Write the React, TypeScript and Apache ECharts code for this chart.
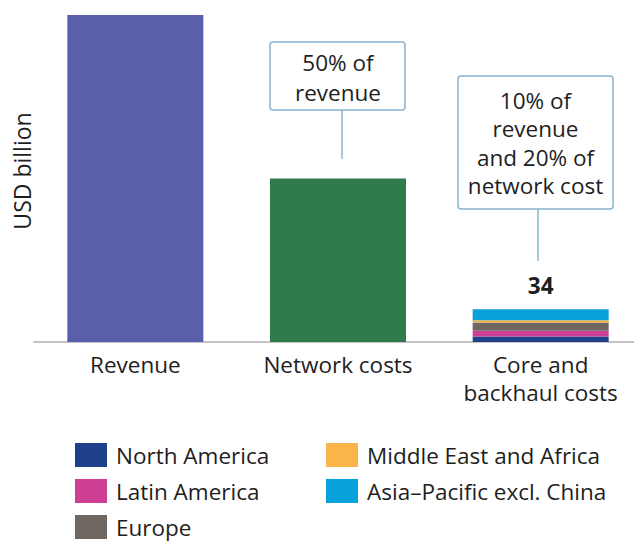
import React, { useEffect, useRef } from "react";
import * as echarts from "echarts";

const categories = ["Revenue", "Network costs", "Core and\nbackhaul costs"];
const revenue = [340, "-", "-"];
const networkCosts = ["-", 170, "-"];
const regionNames = ["North America", "Latin America", "Europe", "Middle East and Africa", "Asia\u2013Pacific excl. China"];
const regionValues = [5.6, 6.0, 8.8, 2.1, 11.5];
const regionColors = ["#1f418b", "#cc3f94", "#6e6762", "#f9b548", "#08a1dc"];
const coreTotal = 34;
const annotations = [
  { text: "50% of\nrevenue" },
  { text: "10% of\nrevenue\nand 20% of\nnetwork cost" },
];

const FONT = "'Open Sans', 'Noto Sans', sans-serif";
const FS = 22.5;
const TEXT = "#1e1e1e";
const BOX = "#8ab4cf";

export default function App() {
  const ref = useRef<HTMLDivElement>(null);
  useEffect(() => {
    const chart = echarts.init(ref.current!, undefined, { renderer: "svg" });
    const regionSeries = regionNames.map((name, i) => ({
      name,
      type: "bar",
      stack: "s",
      barWidth: 136,
      itemStyle: { color: regionColors[i] },
      data: ["-", "-", regionValues[i]],
      label:
        i === regionNames.length - 1
          ? {
              show: true,
              position: "top",
              distance: 12,
              formatter: () => String(coreTotal),
              fontFamily: FONT,
              fontSize: FS,
              fontWeight: "bold",
              color: TEXT,
            }
          : { show: false },
    }));
    const legendCommon = {
      orient: "vertical",
      top: 443,
      height: 110,
      padding: 0,
      itemWidth: 32,
      itemHeight: 24,
      itemGap: 12,
      icon: "rect",
      textStyle: { fontFamily: FONT, fontSize: FS, color: TEXT, padding: [0, 0, 0, 4] },
    };
    chart.setOption({
      animation: false,
      grid: { left: 34, right: 0, top: 15, bottom: 200 },
      legend: [
        { ...legendCommon, left: 75, data: regionNames.slice(0, 3) },
        { ...legendCommon, left: 326, data: regionNames.slice(3) },
      ],
      xAxis: {
        type: "category",
        data: categories,
        axisLine: { show: true, lineStyle: { color: "#c4c4c4", width: 2 } },
        axisTick: { show: false },
        axisLabel: {
          fontFamily: FONT,
          fontSize: FS,
          color: TEXT,
          lineHeight: 28,
          margin: 8,
          interval: 0,
        },
      },
      yAxis: {
        type: "value",
        min: 0,
        max: 340,
        show: false,
      },
      series: [
        { name: "Revenue", type: "bar", stack: "s", barWidth: 136, itemStyle: { color: "#5a5fa9" }, data: revenue },
        { name: "Network costs", type: "bar", stack: "s", barWidth: 136, itemStyle: { color: "#2f7b4b" }, data: networkCosts },
        ...regionSeries,
      ],
      graphic: [
        {
          type: "text",
          x: 22,
          y: 171,
          rotation: Math.PI / 2,
          style: {
            text: "USD billion",
            fontFamily: "'Open Sans', 'Noto Sans', sans-serif",
            fontSize: 23,
            fill: TEXT,
            align: "center",
            verticalAlign: "middle",
            textAlign: "center",
            textVerticalAlign: "middle",
          },
        },
        { type: "line", shape: { x1: 342, y1: 110, x2: 342, y2: 159 }, style: { stroke: BOX, lineWidth: 1.5 } },
        { type: "rect", shape: { x: 270, y: 42, width: 135, height: 68, r: 3 }, style: { fill: "#fff", stroke: BOX, lineWidth: 1.5 } },
        {
          type: "text",
          x: 338,
          y: 77,
          style: {
            text: annotations[0].text,
            fontFamily: FONT,
            fontSize: FS,
            lineHeight: 30,
            fill: TEXT,
            align: "center",
            verticalAlign: "middle",
            textAlign: "center",
            textVerticalAlign: "middle",
          },
        },
        { type: "line", shape: { x1: 538, y1: 209, x2: 538, y2: 261 }, style: { stroke: BOX, lineWidth: 1.5 } },
        { type: "rect", shape: { x: 458, y: 76, width: 155, height: 133, r: 3 }, style: { fill: "#fff", stroke: BOX, lineWidth: 1.5 } },
        {
          type: "text",
          x: 535.5,
          y: 143,
          style: {
            text: annotations[1].text,
            fontFamily: FONT,
            fontSize: FS,
            lineHeight: 28.5,
            fill: TEXT,
            align: "center",
            verticalAlign: "middle",
            textAlign: "center",
            textVerticalAlign: "middle",
          },
        },
      ],
    });
    return () => chart.dispose();
  }, []);
  return (
    <div style={{ position: "absolute", left: 0, top: 0, width: 634, height: 542, overflow: "hidden" }}>
      <div ref={ref} style={{ position: "absolute", left: 0, top: 0, width: 641.5, height: 542 }} />
    </div>
  );
}
